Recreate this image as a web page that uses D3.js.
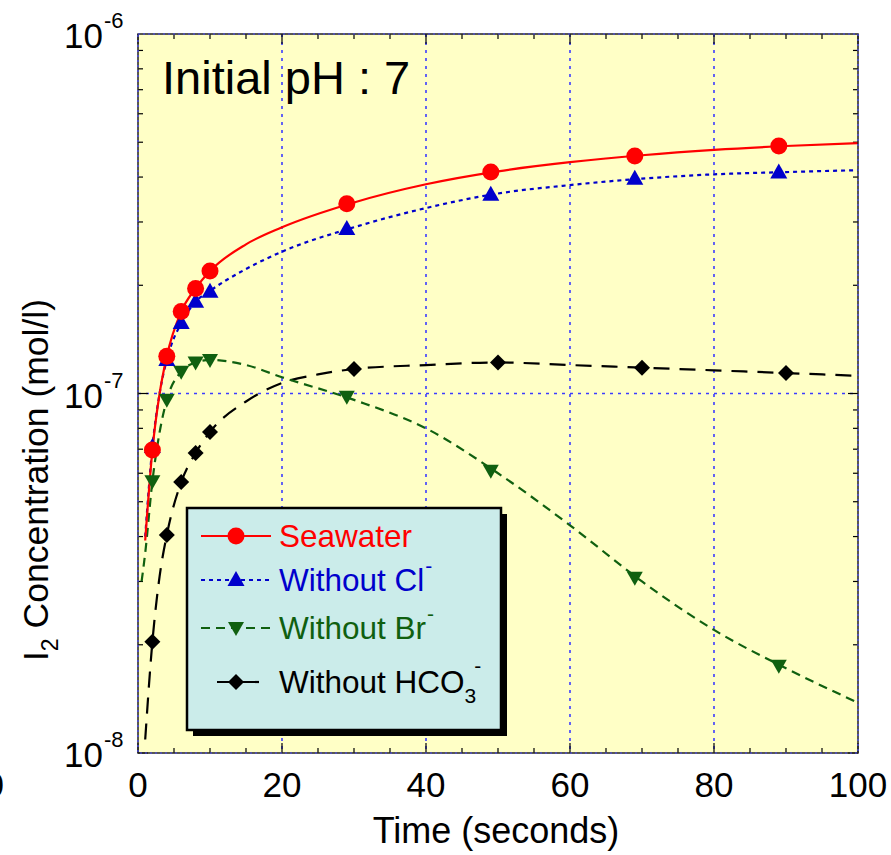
<!DOCTYPE html>
<html>
<head>
<meta charset="utf-8">
<script src="https://cdn.jsdelivr.net/npm/d3@7"></script>
<style>
  html, body { margin: 0; padding: 0; background: #fff; }
  svg { display: block; font-family: "Liberation Sans", Arial, sans-serif; }
</style>
</head>
<body>
<svg id="chart" width="891" height="855"></svg>
<script>
// ── Data ──────────────────────────────────────────────
const xTicks = [0, 20, 40, 60, 80, 100];
const yTickExps = [-8, -7, -6];

// measured points (markers)
const seawaterPts = [[2, 6.96e-8], [4, 1.27e-7], [6, 1.69e-7], [8, 1.96e-7], [10, 2.19e-7],
                     [29, 3.37e-7], [49, 4.13e-7], [69, 4.58e-7], [89, 4.88e-7]];
const noClPts     = [[2, 7.1e-8], [4, 1.24e-7], [6, 1.57e-7], [8, 1.80e-7], [10, 1.92e-7],
                     [29, 2.87e-7], [49, 3.57e-7], [69, 3.96e-7], [89, 4.12e-7]];
const noBrPts     = [[2, 5.7e-8], [4, 9.6e-8], [6, 1.15e-7], [8, 1.22e-7], [10, 1.24e-7],
                     [29, 9.8e-8], [49, 6.1e-8], [69, 3.07e-8], [89, 1.75e-8]];
const noHCO3Pts   = [[2, 2.04e-8], [4, 4.04e-8], [6, 5.67e-8], [8, 6.83e-8], [10, 7.82e-8],
                     [30, 1.17e-7], [50, 1.22e-7], [70, 1.18e-7], [90, 1.14e-7]];

// model curves
const seawaterCurve = [[1, 3.9e-8], [2, 6.96e-8], [3, 1.0e-7], [4, 1.27e-7], [6, 1.69e-7], [8, 1.96e-7],
                       [10, 2.19e-7], [15, 2.6e-7], [20, 2.9e-7], [30, 3.4e-7], [40, 3.82e-7], [50, 4.15e-7],
                       [60, 4.4e-7], [70, 4.6e-7], [80, 4.76e-7], [90, 4.88e-7], [100, 4.97e-7]];
const noClCurve     = [[1, 4.0e-8], [2, 7.1e-8], [3, 1.0e-7], [4, 1.24e-7], [6, 1.57e-7], [8, 1.80e-7],
                       [10, 1.93e-7], [15, 2.22e-7], [20, 2.48e-7], [30, 2.9e-7], [40, 3.28e-7], [50, 3.6e-7],
                       [60, 3.8e-7], [70, 3.96e-7], [80, 4.07e-7], [90, 4.13e-7], [100, 4.18e-7]];
const noBrCurve     = [[0.5, 3.0e-8], [1, 3.6e-8], [2, 5.7e-8], [3, 7.8e-8], [4, 9.6e-8], [6, 1.15e-7],
                       [8, 1.22e-7], [10, 1.24e-7], [15, 1.2e-7], [20, 1.11e-7], [30, 9.6e-8], [40, 8.0e-8],
                       [50, 6.0e-8], [60, 4.3e-8], [70, 3.0e-8], [80, 2.2e-8], [90, 1.72e-8], [100, 1.38e-8]];
const noHCO3Curve   = [[1, 1.09e-8], [2, 2.04e-8], [3, 3.1e-8], [4, 4.04e-8], [6, 5.67e-8], [8, 6.83e-8],
                       [10, 7.82e-8], [15, 9.5e-8], [20, 1.07e-7], [25, 1.13e-7], [30, 1.17e-7], [40, 1.2e-7],
                       [50, 1.22e-7], [60, 1.2e-7], [70, 1.18e-7], [80, 1.16e-7], [90, 1.14e-7], [100, 1.12e-7]];

const series = [
  { name: 'Seawater', sub: '', sup: '', color: '#ff0000', dash: null, marker: 'circle',
    pts: seawaterPts, curve: seawaterCurve },
  { name: 'Without Cl', sub: '', sup: '-', color: '#0000cc', dash: '4 4', marker: 'up',
    pts: noClPts, curve: noClCurve },
  { name: 'Without Br', sub: '', sup: '-', color: '#106010', dash: '9 6', marker: 'down',
    pts: noBrPts, curve: noBrCurve },
  { name: 'Without HCO', sub: '3', sup: '-', color: '#000000', dash: '16 10', marker: 'diamond',
    pts: noHCO3Pts, curve: noHCO3Curve },
];

// ── Layout ───────────────────────────────────────────
const L = 138, R = 858, T = 34, B = 753;
const svg = d3.select('#chart');

const x = d3.scaleLinear().domain([0, 100]).range([L, R]);
const y = d3.scaleLog().domain([1e-8, 1e-6]).range([B, T]);

// plot background
svg.append('rect')
  .attr('x', L).attr('y', T).attr('width', R - L).attr('height', B - T)
  .attr('fill', '#ffffc6');

// ── Grid ─────────────────────────────────────────────
const grid = svg.append('g')
  .attr('stroke', '#3c3cff').attr('stroke-width', 1.6).attr('stroke-dasharray', '3 5');
[20, 40, 60, 80].forEach(v => {
  grid.append('line').attr('x1', x(v)).attr('x2', x(v)).attr('y1', T).attr('y2', B);
});
grid.append('line').attr('x1', L).attr('x2', R).attr('y1', y(1e-7)).attr('y2', y(1e-7));

// ── Ticks (inside, on all four sides) ────────────────
const ticks = svg.append('g').attr('stroke', '#000').attr('stroke-width', 1.2);
d3.range(0, 101, 5).forEach(v => {
  const len = v % 20 === 0 ? 10 : 5;
  ticks.append('line').attr('x1', x(v)).attr('x2', x(v)).attr('y1', B).attr('y2', B - len);
  ticks.append('line').attr('x1', x(v)).attr('x2', x(v)).attr('y1', T).attr('y2', T + len);
});
[-8, -7].forEach(e => {
  d3.range(1, 10).forEach(m => {
    const v = m * Math.pow(10, e);
    const len = m === 1 ? 10 : 5;
    ticks.append('line').attr('x1', L).attr('x2', L + len).attr('y1', y(v)).attr('y2', y(v));
    ticks.append('line').attr('x1', R).attr('x2', R - len).attr('y1', y(v)).attr('y2', y(v));
  });
});

// ── Curves and markers ───────────────────────────────
const line = d3.line()
  .x(d => x(d[0])).y(d => y(d[1]))
  .curve(d3.curveMonotoneX);

function drawMarker(g, kind, cx, cy, color) {
  if (kind === 'circle') {
    g.append('circle').attr('cx', cx).attr('cy', cy).attr('r', 8.5).attr('fill', color);
  } else if (kind === 'up') {
    g.append('path').attr('d', `M${cx},${cy - 9}L${cx + 8.5},${cy + 6}L${cx - 8.5},${cy + 6}Z`).attr('fill', color);
  } else if (kind === 'down') {
    g.append('path').attr('d', `M${cx - 8},${cy - 6}L${cx + 8},${cy - 6}L${cx},${cy + 8}Z`).attr('fill', color);
  } else {
    g.append('path').attr('d', `M${cx},${cy - 8}L${cx + 8},${cy}L${cx},${cy + 8}L${cx - 8},${cy}Z`).attr('fill', color);
  }
}

const plot = svg.append('g');
series.slice().reverse().forEach(s => {
  plot.append('path')
    .datum(s.curve)
    .attr('d', line)
    .attr('fill', 'none')
    .attr('stroke', s.color)
    .attr('stroke-width', 2.2)
    .attr('stroke-dasharray', s.dash);
});
series.slice().reverse().forEach(s => {
  s.pts.forEach(p => drawMarker(plot, s.marker, x(p[0]), y(p[1]), s.color));
});

// ── Frame ────────────────────────────────────────────
svg.append('rect')
  .attr('x', L).attr('y', T).attr('width', R - L).attr('height', B - T)
  .attr('fill', 'none').attr('stroke', '#222').attr('stroke-width', 1.5);
svg.append('rect')
  .attr('x', L).attr('y', T).attr('width', R - L).attr('height', B - T)
  .attr('fill', 'none').attr('stroke', '#4a4aff').attr('stroke-width', 1.2).attr('stroke-dasharray', '2 3');

// ── Axis labels ──────────────────────────────────────
const xl = svg.append('g').attr('font-size', 35).attr('fill', '#000').attr('text-anchor', 'middle');
xTicks.forEach(v => {
  xl.append('text').attr('x', x(v)).attr('y', 797).text(v);
});
// clipped label from neighbouring panel
svg.append('text').attr('x', 4).attr('y', 797).attr('font-size', 35).attr('text-anchor', 'end').text('0');

yTickExps.forEach(e => {
  svg.append('text')
    .attr('x', 103).attr('y', y(Math.pow(10, e)) + 14)
    .attr('font-size', 35).attr('text-anchor', 'end')
    .text('10');
  svg.append('text')
    .attr('x', 104).attr('y', y(Math.pow(10, e)) - 6)
    .attr('font-size', 22).text(e);
});

svg.append('text')
  .attr('x', 496).attr('y', 843)
  .attr('font-size', 36).attr('text-anchor', 'middle')
  .text('Time (seconds)');

const yt = svg.append('text')
  .attr('transform', 'translate(48,480) rotate(-90)')
  .attr('font-size', 35.5).attr('text-anchor', 'middle');
yt.append('tspan').text('I');
yt.append('tspan').attr('font-size', 23).attr('dy', 10).text('2');
yt.append('tspan').attr('dy', -10).text(' Concentration (mol/l)');

svg.append('text')
  .attr('x', 162).attr('y', 94)
  .attr('font-size', 47).text('Initial pH : 7');

// ── Legend ───────────────────────────────────────────
const lg = svg.append('g');
lg.append('rect').attr('x', 193).attr('y', 514).attr('width', 314).attr('height', 222).attr('fill', '#000');
lg.append('rect').attr('x', 187).attr('y', 508).attr('width', 314).attr('height', 222)
  .attr('fill', '#cbecea').attr('stroke', '#000').attr('stroke-width', 2.5);

const rowY = [536, 580, 628, 682];
series.forEach((s, i) => {
  const ry = rowY[i];
  const x1 = i === 3 ? 217 : 201, x2 = i === 3 ? 267 : 271;
  lg.append('line').attr('x1', x1).attr('x2', x2).attr('y1', ry).attr('y2', ry)
    .attr('stroke', s.color).attr('stroke-width', 2.2).attr('stroke-dasharray', s.dash);
  drawMarker(lg, s.marker, 236, ry, s.color);
  const t = lg.append('text').attr('x', 279).attr('y', ry + 11).attr('font-size', 31.5).attr('fill', s.color);
  t.append('tspan').text(s.name);
  if (s.sub) t.append('tspan').attr('font-size', 21).attr('dy', 10).text(s.sub);
  if (s.sup) t.append('tspan').attr('font-size', 21).attr('dy', s.sub ? -30 : -18).attr('dx', s.sub ? -2 : 1).text(s.sup);
});
</script>
</body>
</html>
